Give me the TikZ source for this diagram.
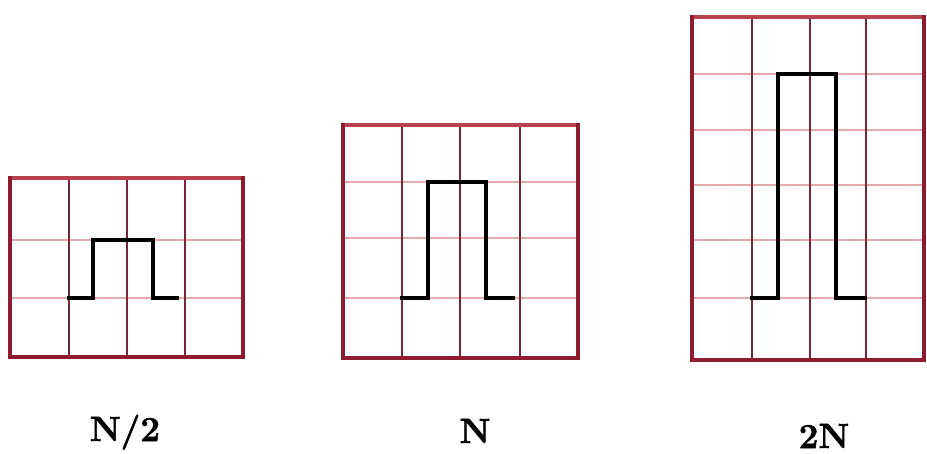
\documentclass[tikz,border=0pt]{standalone}
\usepackage{fontspec}
\newfontfamily\labfont{Latin Modern Roman}[BoldFeatures={FakeBold=1.5}]
\definecolor{framered}{HTML}{8E1B2E}
\definecolor{frametop}{HTML}{B8434F}
\definecolor{vgrid}{HTML}{7A2535}
\definecolor{hgrid}{HTML}{E6A9AE}
\tikzset{
  frameside/.style={draw=framered, line width=3.6pt, line cap=rect},
  frametopline/.style={draw=frametop, line width=3.2pt, line cap=rect},
  vline/.style={draw=vgrid, line width=1.3pt},
  hline/.style={draw=hgrid, line width=2.2pt},
  pulse/.style={draw=black, line width=3.6pt, line join=miter},
  lab/.style={font=\labfont\fontsize{35}{38}\selectfont\bfseries, inner sep=0pt, anchor=base}
}
\begin{document}
\begin{tikzpicture}[x=1pt,y=-1pt]
\useasboundingbox (0,0) rectangle (927,454);
% ---------- Box 1 (N/2) ----------
\foreach \y in {240,298} \draw[hline] (10,\y) -- (243,\y);
\foreach \x in {69,127,185} \draw[vline] (\x,178) -- (\x,357);
\draw[frametopline] (10,178) -- (243,178);
\draw[frameside] (10,178) -- (10,357) -- (243,357) -- (243,178);
\draw[pulse] (67,298) -- (93,298) -- (93,240) -- (153,240) -- (153,298) -- (179,298);
% ---------- Box 2 (N) ----------
\foreach \y in {182,238,298} \draw[hline] (343,\y) -- (578,\y);
\foreach \x in {402,460,520} \draw[vline] (\x,125) -- (\x,358);
\draw[frametopline] (343,125) -- (578,125);
\draw[frameside] (343,125) -- (343,358) -- (578,358) -- (578,125);
\draw[pulse] (400,298) -- (428,298) -- (428,182) -- (486,182) -- (486,298) -- (515,298);
% ---------- Box 3 (2N) ----------
\foreach \y in {74,130,185,240,298} \draw[hline] (692,\y) -- (924,\y);
\foreach \x in {752,810,866} \draw[vline] (\x,17) -- (\x,360);
\draw[frametopline] (692,17) -- (924,17);
\draw[frameside] (692,17) -- (692,360) -- (924,360) -- (924,17);
\draw[pulse] (750,298) -- (778,298) -- (778,74) -- (836,74) -- (836,298) -- (867,298);
% ---------- Labels ----------
\node[lab] (l1) at (125,441) {N/2};
\node[lab] (l2) at (475,443) {N};
\node[lab] (l3) at (824,448) {2N};
\end{tikzpicture}
\end{document}
